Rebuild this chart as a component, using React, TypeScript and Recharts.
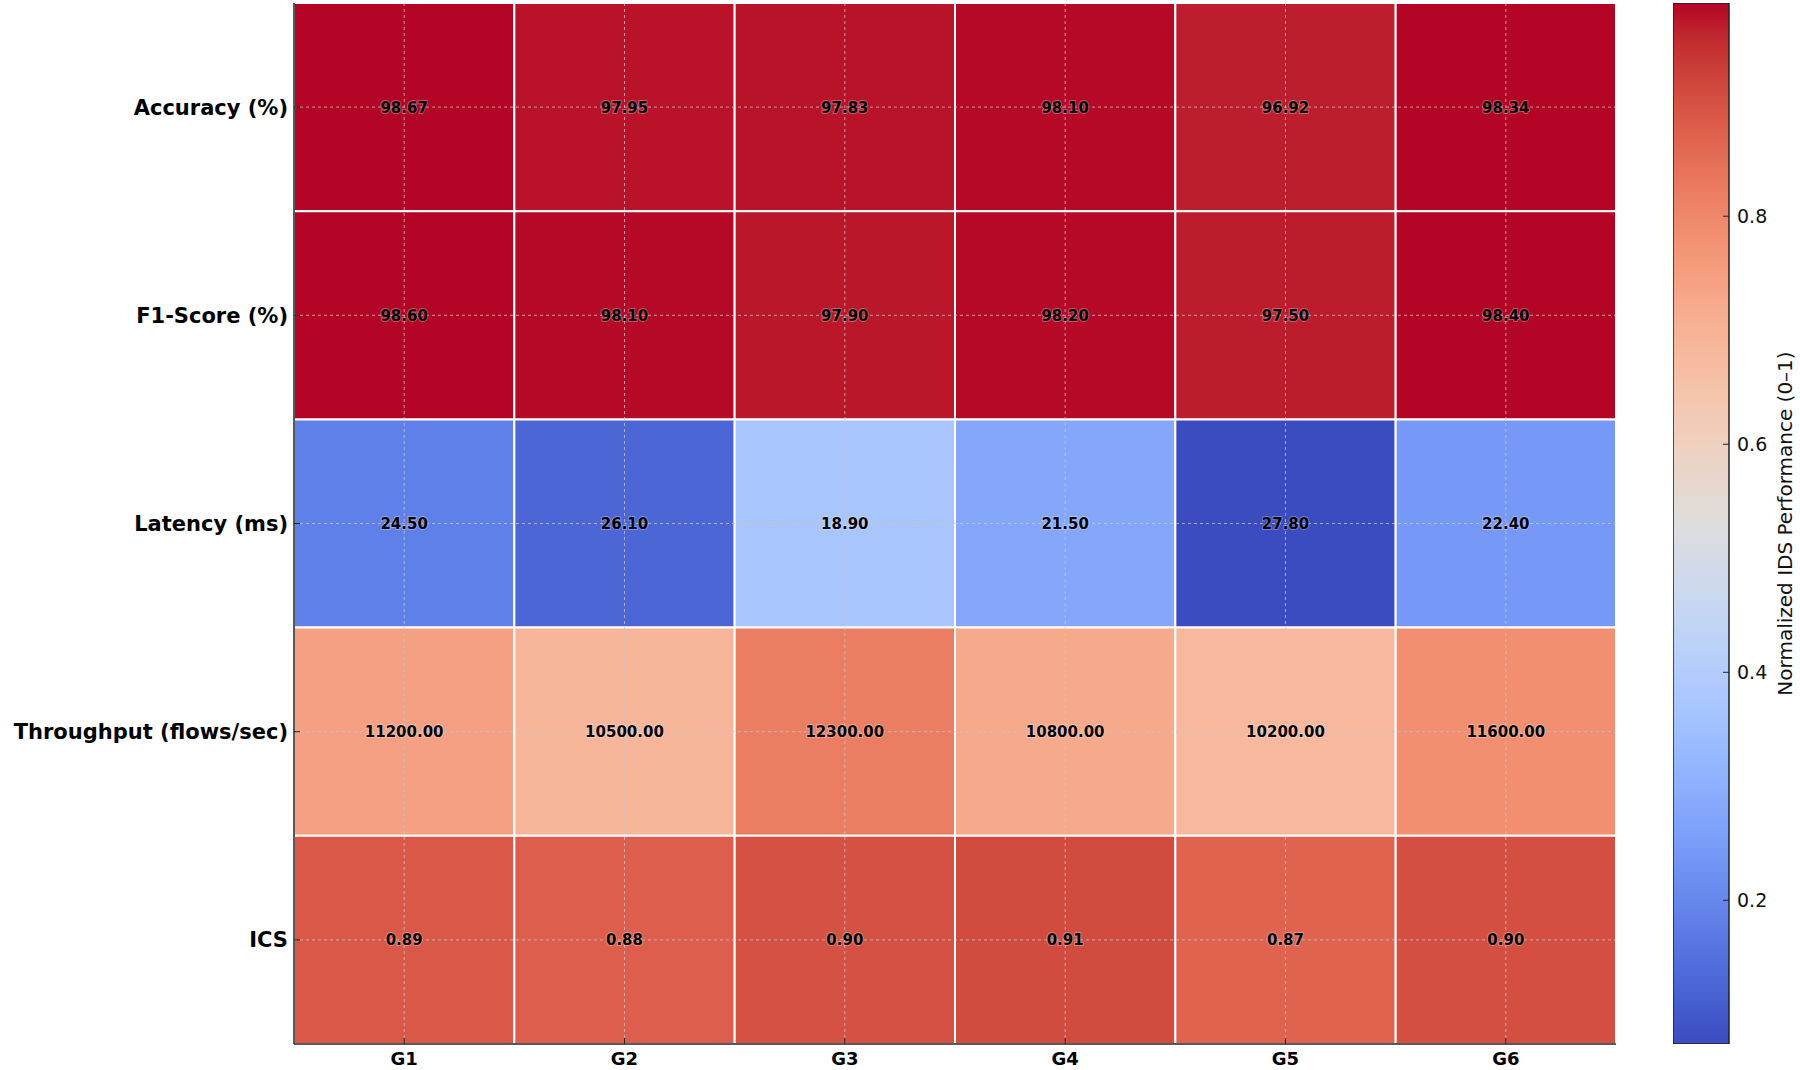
import React from "react"
import {
  ComposedChart,
  BarChart,
  Bar,
  Scatter,
  XAxis,
  YAxis,
  ReferenceArea,
  ReferenceLine,
} from "recharts"

const groups = ["G1", "G2", "G3", "G4", "G5", "G6"]
const metrics = ["Accuracy (%)", "F1-Score (%)", "Latency (ms)", "Throughput (flows/sec)", "ICS"]

// raw values printed in the cells
const accuracy = [98.67, 97.95, 97.83, 98.1, 96.92, 98.34]
const f1Score = [98.6, 98.1, 97.9, 98.2, 97.5, 98.4]
const latency = [24.5, 26.1, 18.9, 21.5, 27.8, 22.4]
const throughput = [11200, 10500, 12300, 10800, 10200, 11600]
const ics = [0.89, 0.88, 0.9, 0.91, 0.87, 0.9]

// normalized performance (0-1) used for the colour of each cell
const accuracyNorm = [0.987, 0.976, 0.975, 0.983, 0.966, 0.987]
const f1ScoreNorm = [0.987, 0.983, 0.972, 0.983, 0.968, 0.987]
const latencyNorm = [0.184, 0.127, 0.371, 0.279, 0.074, 0.243]
const throughputNorm = [0.745, 0.69, 0.818, 0.722, 0.681, 0.782]
const icsNorm = [0.887, 0.876, 0.9, 0.909, 0.868, 0.903]

const colorbarTicks = [0.2, 0.4, 0.6, 0.8]
const colorbarLabel = "Normalized IDS Performance (0–1)"

const rawRows = [accuracy, f1Score, latency, throughput, ics]
const normRows = [accuracyNorm, f1ScoreNorm, latencyNorm, throughputNorm, icsNorm]

const allNorm = normRows.flat()
const vmin = Math.min(...allNorm)
const vmax = Math.max(...allNorm)

// matplotlib "coolwarm" control points
const coolwarm = [
  [59, 76, 192], [68, 90, 204], [77, 104, 215], [87, 117, 225], [98, 130, 234],
  [108, 142, 241], [119, 154, 247], [130, 165, 251], [141, 176, 254], [152, 185, 255],
  [163, 194, 255], [174, 201, 253], [184, 208, 249], [194, 213, 244], [204, 217, 238],
  [213, 219, 230], [221, 221, 221], [229, 216, 209], [236, 211, 197], [241, 204, 184],
  [245, 196, 172], [247, 187, 160], [247, 177, 148], [247, 166, 137], [244, 154, 123],
  [241, 141, 111], [236, 127, 99], [229, 112, 88], [222, 96, 77], [213, 80, 66],
  [203, 62, 56], [192, 40, 47], [180, 4, 38],
]

function cmap(t: number) {
  const tt = Math.max(0, Math.min(1, t)) * (coolwarm.length - 1)
  const i = Math.min(coolwarm.length - 2, Math.floor(tt))
  const f = tt - i
  const a = coolwarm[i]
  const b = coolwarm[i + 1]
  const c = a.map((v, k) => Math.round(v + (b[k] - v) * f))
  return `rgb(${c[0]},${c[1]},${c[2]})`
}

const colorFor = (v: number) => cmap((v - vmin) / (vmax - vmin))

const fmt = (v: number) => v.toFixed(2)

const cells = metrics.flatMap((m, r) =>
  groups.map((g, c) => ({
    x: c + 0.5,
    y: r + 0.5,
    row: r,
    col: c,
    text: fmt(rawRows[r][c]),
    fill: colorFor(normRows[r][c]),
  }))
)

const FONT = "'DejaVu Sans', sans-serif"

const RowTick = (props: any) => {
  const { x, y, payload } = props
  const idx = Math.floor(payload.value)
  return (
    <text x={x} y={y} dy="0.36em" textAnchor="end" fontFamily={FONT} fontSize={21} fontWeight="bold" fill="#000">
      {metrics[idx]}
    </text>
  )
}

const ColTick = (props: any) => {
  const { x, y, payload } = props
  const idx = Math.floor(payload.value)
  return (
    <text x={x} y={y} dy="0.72em" textAnchor="middle" fontFamily={FONT} fontSize={18} fontWeight="bold" fill="#000">
      {groups[idx]}
    </text>
  )
}

const CellText = (props: any) => {
  const { cx, cy, payload } = props
  return (
    <text
      x={cx}
      y={cy}
      dy="0.36em"
      textAnchor="middle"
      fontFamily={FONT}
      fontSize={15}
      fontWeight="bold"
      fill="#000"
      stroke="#ffffff"
      strokeOpacity={0.3}
      strokeWidth={2}
      paintOrder="stroke"
    >
      {payload.text}
    </text>
  )
}

const CbTick = (props: any) => {
  const { x, y, payload } = props
  return (
    <text x={x} y={y} dy="0.36em" textAnchor="start" fontFamily={FONT} fontSize={19} fill="#111">
      {payload.value.toFixed(1)}
    </text>
  )
}

const CbLabel = (props: any) => {
  const vb = props.viewBox || {}
  const cx = vb.x + vb.width - 15
  const cy = vb.y + vb.height / 2
  return (
    <text
      x={cx}
      y={cy}
      transform={`rotate(-90 ${cx} ${cy})`}
      textAnchor="middle"
      dominantBaseline="central"
      fontFamily={FONT}
      fontSize={20}
      fill="#111"
    >
      {colorbarLabel}
    </text>
  )
}

const colorbarData = [{ name: "cb", range: [vmin, vmax] }]
const gradStops = coolwarm.map((_, i) => i / (coolwarm.length - 1))

export default function App() {
  return (
    <div style={{ position: "absolute", left: 0, top: 0, width: 1800, height: 1070, background: "#fff" }}>
      <div style={{ position: "absolute", left: 0, top: 0 }}>
        <ComposedChart width={1630} height={1070} data={cells} margin={{ top: 3, right: 14, bottom: 0, left: 0 }}>
          <XAxis
            type="number"
            dataKey="x"
            domain={[0, groups.length]}
            ticks={groups.map((_, i) => i + 0.5)}
            allowDataOverflow
            height={26}
            tick={<ColTick />}
            tickSize={-6}
            tickMargin={14}
            tickLine={{ stroke: "#222" }}
            axisLine={{ stroke: "#222", strokeWidth: 1.5 }}
            interval={0}
          />
          <YAxis
            type="number"
            dataKey="y"
            domain={[0, metrics.length]}
            ticks={metrics.map((_, i) => i + 0.5)}
            reversed
            allowDataOverflow
            width={294}
            tick={<RowTick />}
            tickSize={-6}
            tickMargin={12}
            tickLine={{ stroke: "#222" }}
            axisLine={{ stroke: "#222", strokeWidth: 1.5 }}
            interval={0}
          />
          {cells.map((c) => (
            <ReferenceArea
              key={`a-${c.row}-${c.col}`}
              x1={c.col}
              x2={c.col + 1}
              y1={c.row}
              y2={c.row + 1}
              fill={c.fill}
              fillOpacity={1}
              stroke="#ffffff"
              strokeWidth={2}
            />
          ))}
          {groups.map((g, i) => (
            <ReferenceLine
              key={`vx-${g}`}
              x={i + 0.5}
              stroke="#c8c8c8"
              strokeOpacity={0.75}
              strokeDasharray="3 3"
              strokeWidth={1}
            />
          ))}
          {metrics.map((m, i) => (
            <ReferenceLine
              key={`hy-${m}`}
              y={i + 0.5}
              stroke="#c8c8c8"
              strokeOpacity={0.75}
              strokeDasharray="3 3"
              strokeWidth={1}
            />
          ))}
          <Scatter data={cells} dataKey="y" shape={<CellText />} isAnimationActive={false} />
        </ComposedChart>
      </div>
      <div style={{ position: "absolute", left: 1673, top: 0 }}>
        <BarChart
          width={127}
          height={1070}
          data={colorbarData}
          margin={{ top: 3, right: 0, bottom: 26, left: 0 }}
          barCategoryGap={0}
          barGap={0}
        >
          <defs>
            <linearGradient id="cbGrad" x1="0" y1="1" x2="0" y2="0">
              {gradStops.map((s, i) => (
                <stop key={i} offset={s} stopColor={cmap(s)} />
              ))}
            </linearGradient>
          </defs>
          <XAxis dataKey="name" hide />
          <YAxis
            orientation="right"
            type="number"
            domain={[vmin, vmax]}
            ticks={colorbarTicks}
            allowDataOverflow
            width={71}
            tick={<CbTick />}
            tickSize={-6}
            tickMargin={14}
            tickLine={{ stroke: "#222" }}
            axisLine={false}
            label={<CbLabel />}
          />
          <Bar dataKey="range" fill="url(#cbGrad)" stroke="#222" strokeWidth={1.5} isAnimationActive={false} />
        </BarChart>
      </div>
    </div>
  )
}
